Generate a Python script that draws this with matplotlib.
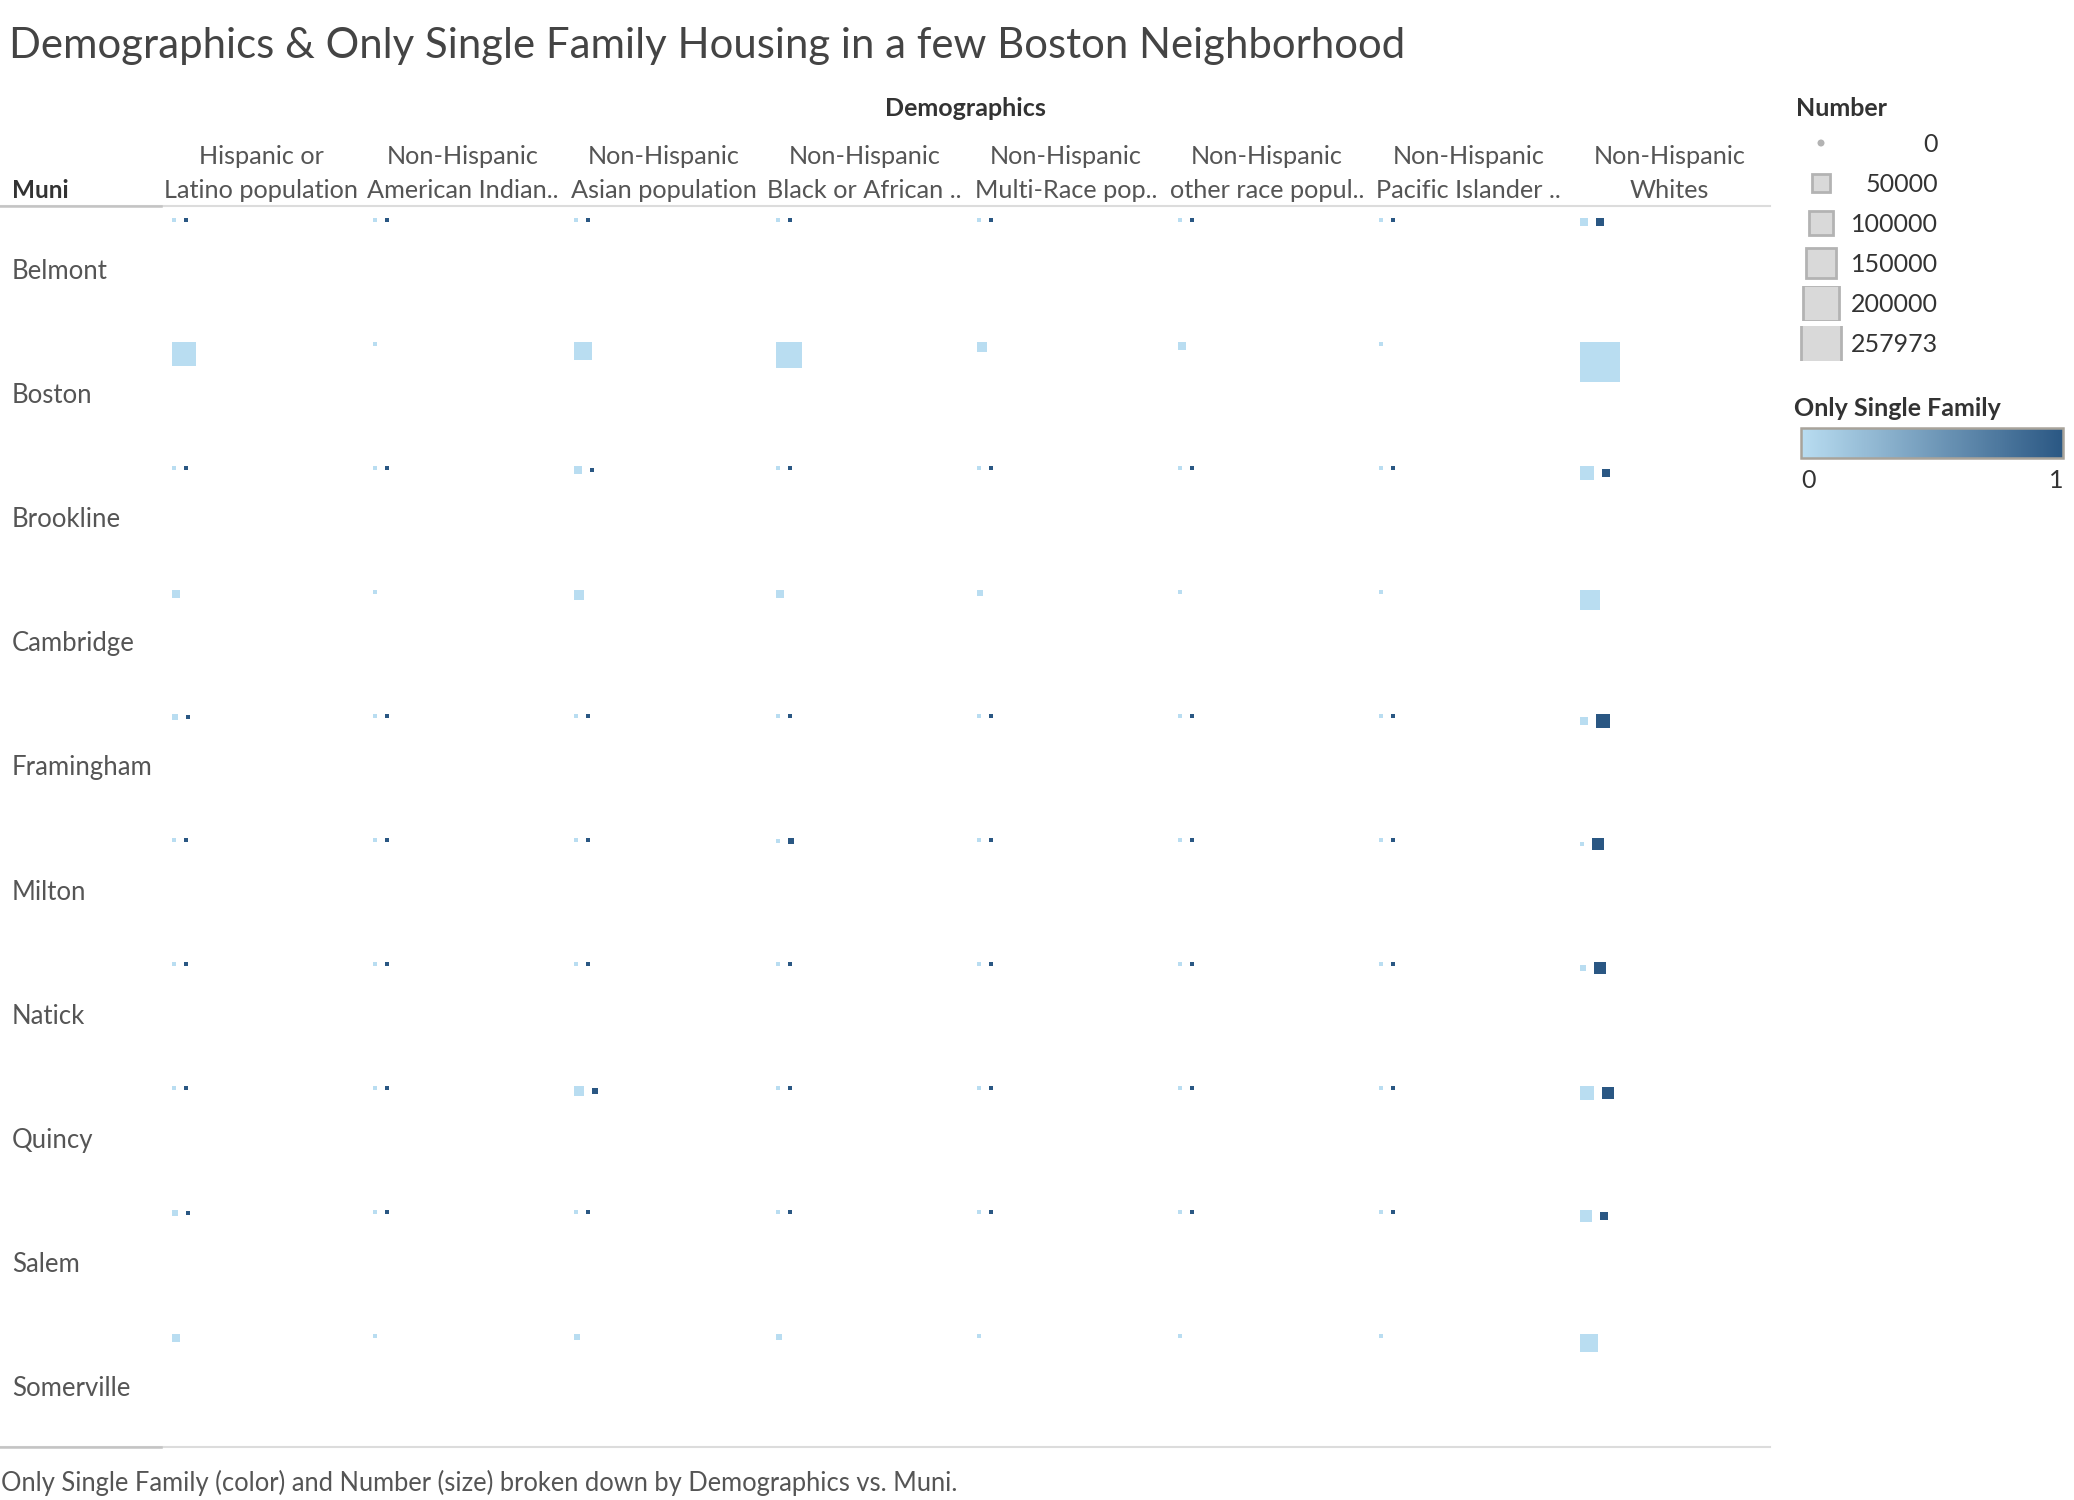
import matplotlib
matplotlib.use("Agg")
import matplotlib.pyplot as plt
import numpy as np
from matplotlib.patches import Rectangle, Circle
from matplotlib.colors import LinearSegmentedColormap, Normalize
from matplotlib.cm import ScalarMappable
from matplotlib.lines import Line2D
from matplotlib.transforms import blended_transform_factory

plt.rcParams["font.family"] = ["Lato", "DejaVu Sans"]

# ----- Data -----
MUNIS = ["Belmont", "Boston", "Brookline", "Cambridge", "Framingham",
         "Milton", "Natick", "Quincy", "Salem", "Somerville"]
DEMOGRAPHICS = ["Hispanic or\nLatino population",
                "Non-Hispanic\nAmerican Indian..",
                "Non-Hispanic\nAsian population",
                "Non-Hispanic\nBlack or African ..",
                "Non-Hispanic\nMulti-Race pop..",
                "Non-Hispanic\nother race popul..",
                "Non-Hispanic\nPacific Islander ..",
                "Non-Hispanic\nWhites"]

# Number of residents, Only Single Family = 0  (rows = MUNIS, cols = DEMOGRAPHICS)
number_sf0 = [
    [1100, 40, 2300, 450, 700, 150, 10, 10300],
    [92900, 1300, 52200, 109000, 16100, 10300, 250, 257973],
    [2400, 60, 10300, 1500, 1800, 500, 20, 31600],
    [10300, 150, 16100, 10300, 5800, 1600, 60, 64500],
    [5800, 100, 2200, 2000, 1500, 1800, 20, 10300],
    [600, 20, 500, 900, 400, 150, 5, 2300],
    [700, 20, 1100, 400, 500, 200, 5, 5800],
    [2500, 100, 16100, 2400, 1500, 1000, 30, 31600],
    [5800, 100, 800, 1300, 900, 700, 10, 23200],
    [10300, 150, 5800, 5800, 2400, 1500, 30, 52200],
]
# Number of residents, Only Single Family = 1  (None = no such area)
number_sf1 = [
    [900, 20, 2100, 300, 600, 120, 5, 10500],
    [None] * 8,
    [900, 15, 2400, 300, 700, 150, 5, 10300],
    [None] * 8,
    [1600, 60, 2100, 1200, 1200, 900, 10, 31600],
    [700, 20, 2000, 5800, 800, 300, 5, 23200],
    [1000, 30, 2300, 700, 900, 300, 5, 23200],
    [1200, 50, 5800, 1100, 900, 500, 10, 23200],
    [1800, 40, 500, 500, 500, 300, 5, 10300],
    [None] * 8,
]
SIZE_LEGEND = [0, 50000, 100000, 150000, 200000, 257973]

# ----- Style -----
C_LIGHT = "#b9ddf1"
C_DARK = "#2a5783"
TXT = "#555555"
TXT_DARK = "#333333"
W, H = 2074, 1500
N_MAX = 257973
S_MAX = 40.0   # px side of largest mark
S_MIN = 4.0


def side(n):
    if n is None:
        return 0.0
    return max(S_MIN, S_MAX * np.sqrt(n / N_MAX))


def fx(px):
    return px / W


def fy(py):
    return 1 - py / H


fig = plt.figure(figsize=(W / 100, H / 100), dpi=100)

# plot area (pixel bounds in the figure)
L, R, T, B = 160.5, 1770, 206, 1447
ax = fig.add_axes([fx(L), fy(B), fx(R - L), (B - T) / H])
ncol, nrow = len(DEMOGRAPHICS), len(MUNIS)
ax.set_xlim(0, ncol)
ax.set_ylim(nrow, 0)
for sp in ax.spines.values():
    sp.set_visible(False)
ax.set_xticks([])
ax.set_yticks([])

ppx = (R - L) / ncol   # px per x unit
ppy = (B - T) / nrow   # px per y unit
PAD_X, PAD_Y, GAP = 11.5, 11.5, 8.0

# row labels
rowtf = blended_transform_factory(fig.transFigure, ax.transData)
for i, m in enumerate(MUNIS):
    ax.text(fx(12), i + 0.5 + 3.5 / ppy, m, transform=rowtf, ha="left",
            va="center", fontsize=18.5, color=TXT)

for i in range(nrow):
    for j in range(ncol):
        s0 = side(number_sf0[i][j])
        s1 = side(number_sf1[i][j])
        smax = max(s0, s1)
        yc = i + (PAD_Y + smax / 2) / ppy
        x0 = j + PAD_X / ppx
        if s0 > 0:
            ax.add_patch(Rectangle((x0, yc - s0 / 2 / ppy), s0 / ppx, s0 / ppy,
                                   facecolor=C_LIGHT, linewidth=0))
        if s1 > 0:
            x1 = x0 + (s0 + GAP) / ppx
            ax.add_patch(Rectangle((x1, yc - s1 / 2 / ppy), s1 / ppx, s1 / ppy,
                                   facecolor=C_DARK, linewidth=0))

# column headers
hdr = blended_transform_factory(ax.transData, fig.transFigure)
for j, lab in enumerate(DEMOGRAPHICS):
    top, bot = lab.split("\n")
    ax.text(j + 0.5, fy(157), top, transform=hdr, ha="center", va="center",
            fontsize=18.2, color=TXT)
    ax.text(j + 0.5, fy(191), bot, transform=hdr, ha="center", va="center",
            fontsize=18.2, color=TXT)
ax.text(ncol / 2, fy(109), "Demographics", transform=hdr, ha="center",
        va="center", fontsize=18, fontweight="bold", color=TXT_DARK)
fig.text(fx(12), fy(191), "Muni", ha="left", va="center", fontsize=17.5,
         fontweight="bold", color=TXT_DARK)

# header / footer rules
for yy in (T, B):
    fig.add_artist(Line2D([0, fx(R)], [fy(yy), fy(yy)], color="#dcdcdc", lw=1.5))
    fig.add_artist(Line2D([0, fx(L)], [fy(yy), fy(yy)], color="#c4c4c4", lw=1.8))

# title + caption
fig.text(fx(9), fy(58), "Demographics & Only Single Family Housing in a few Boston Neighborhood",
         ha="left", va="baseline", fontsize=30.2, fontweight="normal", color="#444444")
fig.text(fx(1), fy(1483),
         "Only Single Family (color) and Number (size) broken down by Demographics vs. Muni.",
         ha="left", va="center", fontsize=18.4, color=TXT)

# ----- size legend -----
fig.text(fx(1796), fy(109), "Number", ha="left", va="center", fontsize=18,
         fontweight="bold", color=TXT_DARK)
LX0, LX1, LY0, LY1 = 1780, 1960, 120, 370
lax = fig.add_axes([fx(LX0), fy(LY1), fx(LX1 - LX0), (LY1 - LY0) / H])
lax.set_xlim(LX0, LX1)
lax.set_ylim(LY1, LY0)
lax.axis("off")
for k, val in enumerate(SIZE_LEGEND):
    yc = 143 + 40 * k
    if val == 0:
        lax.add_patch(Circle((1821, yc), 3.5, facecolor="#b3b3b3", linewidth=0))
    else:
        s = side(val)
        rect = Rectangle((1821 - s / 2, yc - s / 2), s, s, facecolor="#d9d9d9",
                         edgecolor="#b3b3b3", linewidth=2.0)
        lax.add_patch(rect)
        clip = Rectangle((1780, yc - 17.5), 90, 35, transform=lax.transData)
        rect.set_clip_path(clip)
    lax.text(1938, yc + 1, f"{val}", ha="right", va="center", fontsize=18,
             color=TXT_DARK)

# ----- colour legend -----
fig.text(fx(1794), fy(409), "Only Single Family", ha="left", va="center",
         fontsize=18, fontweight="bold", color=TXT_DARK)
cax = fig.add_axes([fx(1801), fy(458), fx(2063 - 1801), 30 / H])
cmap = LinearSegmentedColormap.from_list("tab_blue", [C_LIGHT, C_DARK])
cb = fig.colorbar(ScalarMappable(norm=Normalize(0, 1), cmap=cmap), cax=cax,
                  orientation="horizontal")
cb.outline.set_edgecolor("#a8a39a")
cb.outline.set_linewidth(1.8)
cb.set_ticks([0, 1])
cax.tick_params(length=0, pad=8, labelsize=18, labelcolor=TXT_DARK)
tl = cax.get_xticklabels()
tl[0].set_ha("left")
tl[1].set_ha("right")

fig.savefig("out.png", dpi=100, facecolor="white")
